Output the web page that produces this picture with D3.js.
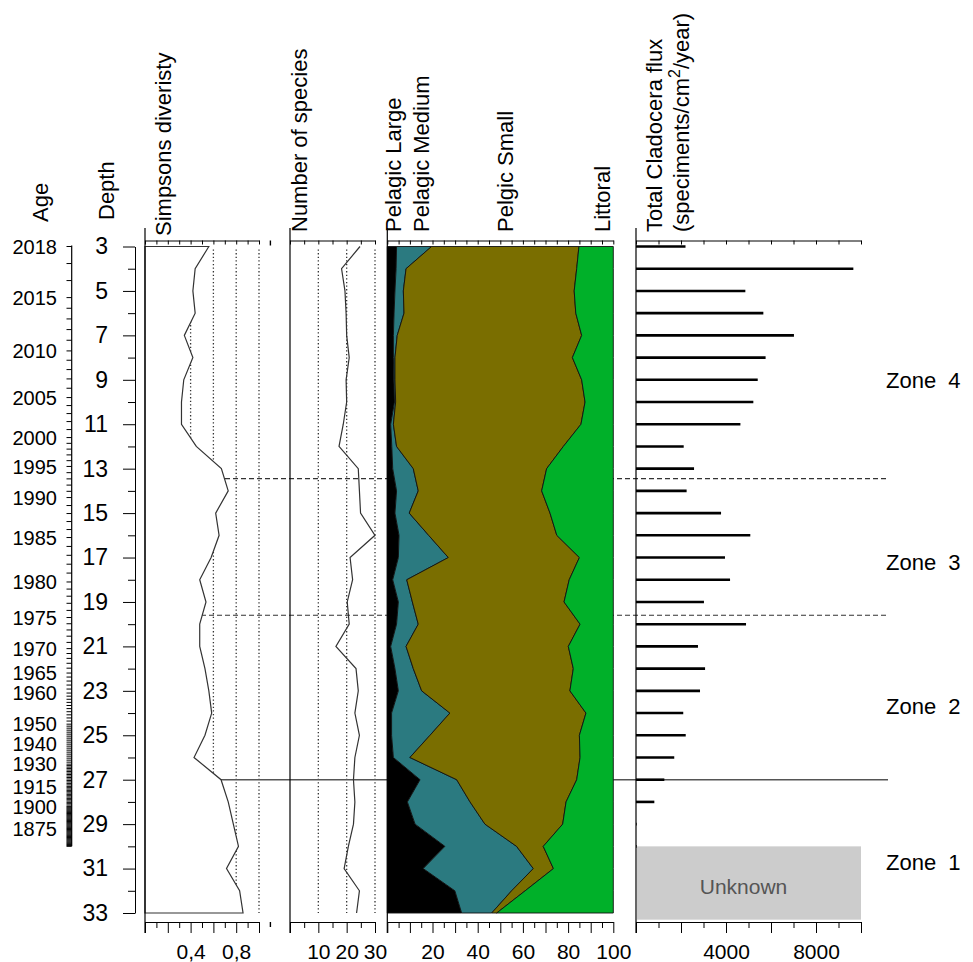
<!DOCTYPE html>
<meta charset="utf-8">
<style>
  body { margin: 0; background: #fff; }
  svg { font-family: "Liberation Sans", Arial, sans-serif; }
</style>
<svg width="973" height="962"></svg>
<script src="https://cdn.jsdelivr.net/npm/d3@7/dist/d3.min.js"></script>
<script>
    // sample depths (cm)
    var depths = [3, 4, 5, 6, 7, 8, 9, 10, 11, 12, 13, 14, 15, 16, 17, 18, 19, 20, 21, 22, 23, 24, 25, 26, 27, 28, 29, 30, 31, 32, 33];
    var simpson = [0.56, 0.44, 0.42, 0.44, 0.345, 0.42, 0.34, 0.32, 0.32, 0.45, 0.67, 0.73, 0.62, 0.65, 0.58, 0.48,
        0.535, 0.48, 0.48, 0.526, 0.56, 0.585, 0.526, 0.43, 0.667, 0.73, 0.775, 0.82, 0.715, 0.83, 0.86];
    var species = [24.7, 18.2, 19.4, 19.8, 20.0, 20.9, 19.8, 20.0, 18.8, 17.3, 24.1, 24.5, 24.9, 30.0, 21.2, 22.1,
        20.2, 20.9, 16.2, 23.3, 24.1, 22.9, 24.5, 22.9, 22.4, 22.9, 22.4, 20.6, 19.1, 24.5, 23.5];
    // percentages
    var pelagicLarge = [4.1, 3.9, 3.4, 3.0, 2.7, 2.7, 2.9, 3.2, 1.5, 2.0, 2.4, 4.1, 3.4, 5.2, 4.9, 2.4,
        4.9, 4.1, 1.5, 3.4, 4.9, 1.9, 1.9, 2.7, 14.5, 8.9, 12.3, 25.5, 15.9, 29.9, 32.9];
    var pelagicMedium = [15.5, 4.4, 3.7, 4.4, 1.7, 0.7, 0.5, 0.5, 1.2, 2.1, 9.1, 9.6, 6.3, 13.1, 22.1, 6.2,
        6.2, 9.6, 6.8, 8.1, 10.3, 25.8, 17.0, 7.3, 16.2, 27.7, 30.9, 31.7, 48.7, 25.1, 13.3];
    var pelagicSmall = [65.2, 75.5, 75.6, 76.0, 81.6, 78.5, 82.6, 83.8, 83.0, 73.8, 59.0, 54.6, 62.3, 56.7, 58.0, 71.9,
        67.1, 71.6, 71.8, 70.8, 65.6, 60.2, 66.1, 75.3, 53.1, 42.5, 34.4, 11.8, 8.9, 6.0, 2.2];
    var littoral = [15.2, 16.2, 17.3, 16.6, 14.0, 18.1, 14.0, 12.5, 14.3, 22.1, 29.5, 31.7, 28.0, 25.0, 15.0, 19.5,
        21.8, 14.7, 19.9, 17.7, 19.2, 12.1, 15.0, 14.7, 16.2, 20.9, 22.4, 31.0, 26.5, 39.0, 51.6];
    // total flux, depths 3..30 (specimens/cm2/year)
    var fluxDepths = [3, 4, 5, 6, 7, 8, 9, 10, 11, 12, 13, 14, 15, 16, 17, 18, 19, 20, 21, 22, 23, 24, 25, 26, 27, 28, 29, 30];
    var flux = [2200, 9660, 4860, 5660, 7020, 5760, 5410, 5215, 4640, 2120, 2580, 2250, 3780, 5080, 3955, 4180,
        3020, 4890, 2755, 3070, 2845, 2100, 2210, 1700, 1260, 815, 30, 30];
    var unknownDepths = [30, 33.3];

    // age-depth model (labelled years)
    var ageYears = [2018, 2015, 2010, 2005, 2000, 1995, 1990, 1985, 1980, 1975, 1970, 1965, 1960, 1950, 1940, 1930, 1915, 1900, 1875, 1855];
    var ageDepths = [3.0, 5.3, 7.7, 9.8, 11.6, 12.9, 14.3, 16.1, 18.1, 19.7, 21.1, 22.2, 23.1, 24.5, 25.4, 26.3, 27.3, 28.2, 29.2, 30.0];
    var ageLabels = ageYears.slice(0, ageYears.length - 1);

    // zones
    var zoneBounds = [13.45, 19.6, 27];
    var zoneDashed = [true, true, false];
    var zoneNames = ['Zone 4', 'Zone 3', 'Zone 2', 'Zone 1'];
    var zoneLabelDepths = [9.0, 17.2, 23.7, 30.7];

    // ticks
    var depthLabels = [3, 5, 7, 9, 11, 13, 15, 17, 19, 21, 23, 25, 27, 29, 31, 33];
    var simpsonTickLabels = [0.4, 0.8];
    var speciesTickLabels = [10, 20, 30];
    var pctTickLabels = [20, 40, 60, 80, 100];
    var fluxTickLabels = [4000, 8000];

    var FONT = '"Liberation Sans", Arial, sans-serif';
    var svg = d3.select('svg');
    var top0 = 240.5, bottom0 = 922;

    var y = d3.scaleLinear().domain([3, 33]).range([246.5, 913]);
    var xSimp = d3.scaleLinear().domain([0, 1]).range([145, 259]);
    var xSpec = d3.scaleLinear().domain([0, 30]).range([290, 375]);
    var xPct = d3.scaleLinear().domain([0, 100]).range([387.3, 613.3]);
    var xFlux = d3.scaleLinear().domain([0, 10000]).range([636, 861]);
    var ageToDepth = d3.scaleLinear().domain(ageYears).range(ageDepths);

    // dotted grid lines
    function grid(scale, vals) {
        svg.append('g').selectAll('line').data(vals).enter().append('line')
            .attr('x1', scale).attr('x2', scale)
            .attr('y1', y(3) + 3).attr('y2', y(33))
            .attr('stroke', '#333').attr('stroke-width', 1.3)
            .attr('stroke-dasharray', '1.3,2.3');
    }
    grid(xSimp, [0.2, 0.4, 0.6, 0.8, 1.0]);
    grid(xSpec, [10, 20, 30]);

    // zone boundary lines
    svg.append('g').selectAll('line').data(zoneBounds).enter().append('line')
        .attr('x1', xSimp(0)).attr('x2', 888)
        .attr('y1', function (d) { return y(d); })
        .attr('y2', function (d) { return y(d); })
        .attr('stroke', function (d, i) { return zoneDashed[i] ? '#333' : '#555'; })
        .attr('stroke-width', function (d, i) { return zoneDashed[i] ? 1.1 : 1.6; })
        .attr('stroke-dasharray', function (d, i) { return zoneDashed[i] ? '5,3' : null; });

    // Simpson profile (white filled)
    var simpArea = d3.area()
        .y(function (d, i) { return y(depths[i]); })
        .x0(xSimp(0))
        .x1(function (d) { return xSimp(d); });
    svg.append('path').datum(simpson)
        .attr('d', simpArea)
        .attr('fill', '#fff').attr('stroke', '#333').attr('stroke-width', 1.2);

    // number of species
    var specLine = d3.line()
        .y(function (d, i) { return y(depths[i]); })
        .x(function (d) { return xSpec(d); });
    svg.append('path').datum(species)
        .attr('d', specLine)
        .attr('fill', 'none').attr('stroke', '#333').attr('stroke-width', 1.2);

    // stacked groups
    var keys = ['large', 'medium', 'small', 'littoral'];
    var colors = { large: '#000000', medium: '#2b7a80', small: '#7a6e00', littoral: '#00b029' };
    var table = depths.map(function (d, i) {
        return { depth: d, large: pelagicLarge[i], medium: pelagicMedium[i], small: pelagicSmall[i], littoral: littoral[i] };
    });
    var stack = d3.stack().keys(keys);
    var area = d3.area()
        .y(function (d) { return y(d.data.depth); })
        .x0(function (d) { return xPct(d[0]); })
        .x1(function (d) { return xPct(d[1]); });
    svg.append('g').selectAll('path').data(stack(table)).enter().append('path')
        .attr('d', area)
        .attr('fill', function (d) { return colors[d.key]; })
        .attr('stroke', '#111').attr('stroke-width', 0.9).attr('stroke-linejoin', 'round');

    // flux bars
    svg.append('g').selectAll('line').data(flux).enter().append('line')
        .attr('x1', xFlux(0)).attr('x2', function (d) { return xFlux(d); })
        .attr('y1', function (d, i) { return y(fluxDepths[i]); })
        .attr('y2', function (d, i) { return y(fluxDepths[i]); })
        .attr('stroke', '#000').attr('stroke-width', 2.6);
    svg.append('rect')
        .attr('x', xFlux(0) + 1).attr('width', xFlux(10000) - xFlux(0) - 1)
        .attr('y', y(unknownDepths[0])).attr('height', y(unknownDepths[1]) - y(unknownDepths[0]))
        .attr('fill', '#cccccc');
    svg.append('text')
        .attr('x', (xFlux(0) + xFlux(10000)) / 2 - 5)
        .attr('y', (y(unknownDepths[0]) + y(unknownDepths[1])) / 2 + 11)
        .attr('text-anchor', 'middle').attr('fill', '#555')
        .style('font-size', '21px').text('Unknown');

    // panel axes
    function panelAxes(scale, ticks, labels, fmt, extraTick) {
        var x0 = scale.range()[0];
        svg.append('line').attr('x1', x0).attr('x2', x0).attr('y1', 228).attr('y2', bottom0 + 11)
            .attr('stroke', '#000').attr('stroke-width', 1.2);
        var topAx = d3.axisBottom(scale).tickValues(ticks).tickSize(4).tickSizeOuter(0).tickFormat('');
        svg.append('g').attr('transform', 'translate(0,' + top0 + ')').call(topAx);
        var botAx = d3.axisBottom(scale).tickValues(ticks).tickSize(11).tickSizeOuter(0)
            .tickFormat(function (d) {
                return labels.some(function (l) { return Math.abs(l - d) < 1e-9; }) ? fmt(d) : '';
            });
        var g = svg.append('g').attr('transform', 'translate(0,' + bottom0 + ')').call(botAx)
            .attr('font-family', FONT).attr('font-size', 21);
        g.selectAll('.tick line').attr('y2', function (d, i) { return i % 2 === 0 ? 11 : 6; });
        g.selectAll('.tick text').attr('y', 22).attr('fill', '#000');
        if (extraTick) {
            [[top0, top0 + 5], [bottom0, bottom0 + 5]].forEach(function (p) {
                svg.append('line').attr('x1', extraTick).attr('x2', extraTick)
                    .attr('y1', p[0]).attr('y2', p[1]).attr('stroke', '#000').attr('stroke-width', 1.4);
            });
        }
    }
    panelAxes(xSimp, d3.range(0, 11).map(function (i) { return i / 10; }), simpsonTickLabels,
        function (d) { return String(d).replace('.', ','); }, xSimp(1.1));
    panelAxes(xSpec, d3.range(0, 31, 5), speciesTickLabels, String);
    panelAxes(xPct, d3.range(0, 101, 5), pctTickLabels, String);
    panelAxes(xFlux, d3.range(0, 10001, 1000), fluxTickLabels, String);

    // depth axis
    var depthAx = d3.axisLeft(y).tickValues(d3.range(3, 34)).tickSize(12).tickSizeOuter(0)
        .tickFormat(function (d) { return depthLabels.indexOf(d) >= 0 ? d : ''; });
    var dg = svg.append('g').attr('transform', 'translate(135,0)').call(depthAx)
        .attr('font-family', FONT).attr('font-size', 23);
    dg.selectAll('.tick line').attr('x2', function (d) { return depthLabels.indexOf(d) >= 0 ? -12 : -7; });
    dg.selectAll('.tick text').attr('x', -27).attr('fill', '#000');

    // age axis
    var ag = svg.append('g');
    ag.append('line').attr('x1', 71.7).attr('x2', 71.7)
        .attr('y1', y(ageDepths[0]) - 1).attr('y2', y(ageDepths[ageDepths.length - 1]))
        .attr('stroke', '#000').attr('stroke-width', 1.2);
    ag.selectAll('.yr').data(d3.range(ageYears[ageYears.length - 1], ageYears[0] + 1)).enter().append('line')
        .attr('x1', 66.5).attr('x2', 71.7)
        .attr('y1', function (d) { return y(ageToDepth(d)); })
        .attr('y2', function (d) { return y(ageToDepth(d)); })
        .attr('stroke', '#000').attr('stroke-width', 1);
    ag.selectAll('text').data(ageLabels).enter().append('text')
        .attr('x', 57).attr('y', function (d) { return y(ageToDepth(d)); })
        .attr('dy', '0.36em').attr('text-anchor', 'end')
        .style('font-size', '20px').text(function (d) { return d; });

    // headers
    var headers = [
        { t: 'Age', x: 48, y: 222 },
        { t: 'Depth', x: 114, y: 220 },
        { t: 'Simpsons diveristy', x: 170.5, y: 236 },
        { t: 'Number of species', x: 307, y: 232 },
        { t: 'Pelagic Large', x: 401, y: 232 },
        { t: 'Pelagic Medium', x: 429, y: 232 },
        { t: 'Pelgic Small', x: 513, y: 232 },
        { t: 'Littoral', x: 609.5, y: 232 },
        { t: 'Total Cladocera flux', x: 661.5, y: 232 }
    ];
    svg.append('g').selectAll('text').data(headers).enter().append('text')
        .attr('transform', function (d) { return 'translate(' + d.x + ',' + d.y + ') rotate(-90)'; })
        .style('font-size', '22px').text(function (d) { return d.t; });
    var unit = svg.append('text').attr('transform', 'translate(688.5,232) rotate(-90)').style('font-size', '22px');
    unit.append('tspan').text('(speciments/cm');
    unit.append('tspan').attr('dy', -9).style('font-size', '16px').text('2');
    unit.append('tspan').attr('dy', 9).text('/year)');

    // zone labels
    svg.append('g').selectAll('text').data(zoneNames).enter().append('text')
        .attr('x', 886).attr('y', function (d, i) { return y(zoneLabelDepths[i]); })
        .attr('dy', '0.35em').attr('xml:space', 'preserve')
        .style('font-size', '22px').style('white-space', 'pre')
        .text(function (d) { return d.replace(' ', '  '); });
</script>
